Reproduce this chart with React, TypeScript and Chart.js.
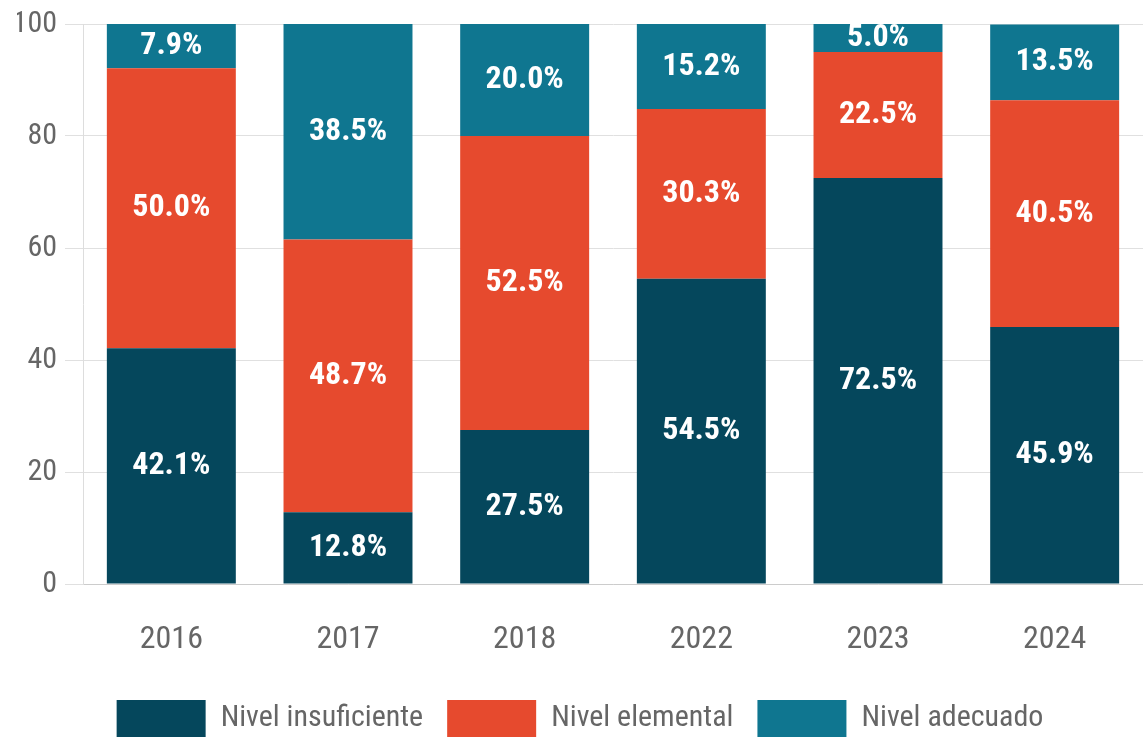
import React, { useEffect, useRef } from "react";
import { Chart, registerables } from "chart.js";

Chart.register(...registerables);

const years = ["2016", "2017", "2018", "2022", "2023", "2024"];
const insuficiente = [42.1, 12.8, 27.5, 54.5, 72.5, 45.9];
const elemental = [50.0, 48.7, 52.5, 30.3, 22.5, 40.5];
const adecuado = [7.9, 38.5, 20.0, 15.2, 5.0, 13.5];
const yTicks = [0, 20, 40, 60, 80, 100];

const FONT = '"Roboto Condensed", "Liberation Sans Narrow", sans-serif';

const labelPlugin = {
  id: "segLabels",
  afterDatasetsDraw(chart: any) {
    const { ctx, chartArea } = chart;
    ctx.save();
    ctx.beginPath();
    ctx.rect(chartArea.left, chartArea.top, chartArea.right - chartArea.left, chartArea.bottom - chartArea.top);
    ctx.clip();
    ctx.font = `bold 32px ${FONT}`;
    ctx.fillStyle = "#ffffff";
    ctx.textAlign = "center";
    ctx.textBaseline = "middle";
    chart.data.datasets.forEach((ds: any, i: number) => {
      const meta = chart.getDatasetMeta(i);
      meta.data.forEach((bar: any, j: number) => {
        const p = bar.getProps(["x", "y", "base"], true);
        ctx.fillText(Number(ds.data[j]).toFixed(1) + "%", p.x, (p.y + p.base) / 2);
      });
    });
    ctx.restore();
  },
};

export default function App() {
  const ref = useRef<HTMLCanvasElement | null>(null);
  useEffect(() => {
    if (!ref.current) return;
    const chart = new Chart(ref.current, {
      type: "bar",
      data: {
        labels: years,
        datasets: [
          { label: "Nivel insuficiente", data: insuficiente, backgroundColor: "#05475c" },
          { label: "Nivel elemental", data: elemental, backgroundColor: "#e64a2e" },
          { label: "Nivel adecuado", data: adecuado, backgroundColor: "#0f7690" },
        ],
      },
      options: {
        animation: false,
        responsive: false,
        maintainAspectRatio: false,
        categoryPercentage: 1,
        barPercentage: 0.73,
        layout: { padding: { top: 24, right: 0, left: 17, bottom: -8 } },
        plugins: {
          tooltip: { enabled: false },
          legend: {
            position: "bottom",
            labels: {
              boxWidth: 89,
              boxHeight: 37,
              padding: 24,
              color: "#666",
              font: { family: FONT, size: 30 },
            },
          },
        },
        scales: {
          x: {
            stacked: true,
            grid: { display: false },
            border: { display: true, color: "#cccccc" },
            ticks: { color: "#666", font: { family: FONT, size: 32 }, padding: 29 },
            afterFit: (scale: any) => {
              scale.height = 92;
            },
          },
          y: {
            stacked: true,
            min: 0,
            max: 100,
            afterBuildTicks: (axis: any) => {
              axis.ticks = yTicks.map((v) => ({ value: v }));
            },
            afterFit: (scale: any) => {
              scale.width = 66;
              scale.paddingTop = 0;
              scale.paddingBottom = 0;
            },
            grid: { color: "#e0e0e0", tickLength: 18 },
            border: { display: true, color: "#dddddd" },
            ticks: { color: "#666", font: { family: FONT, size: 30 }, padding: 8 },
          },
        },
      },
      plugins: [labelPlugin],
    });
    return () => chart.destroy();
  }, []);
  return (
    <div style={{ position: "fixed", left: 0, top: 0, width: 1143, height: 739, background: "#fff" }}>
      <canvas ref={ref} width={1143} height={739} />
    </div>
  );
}
